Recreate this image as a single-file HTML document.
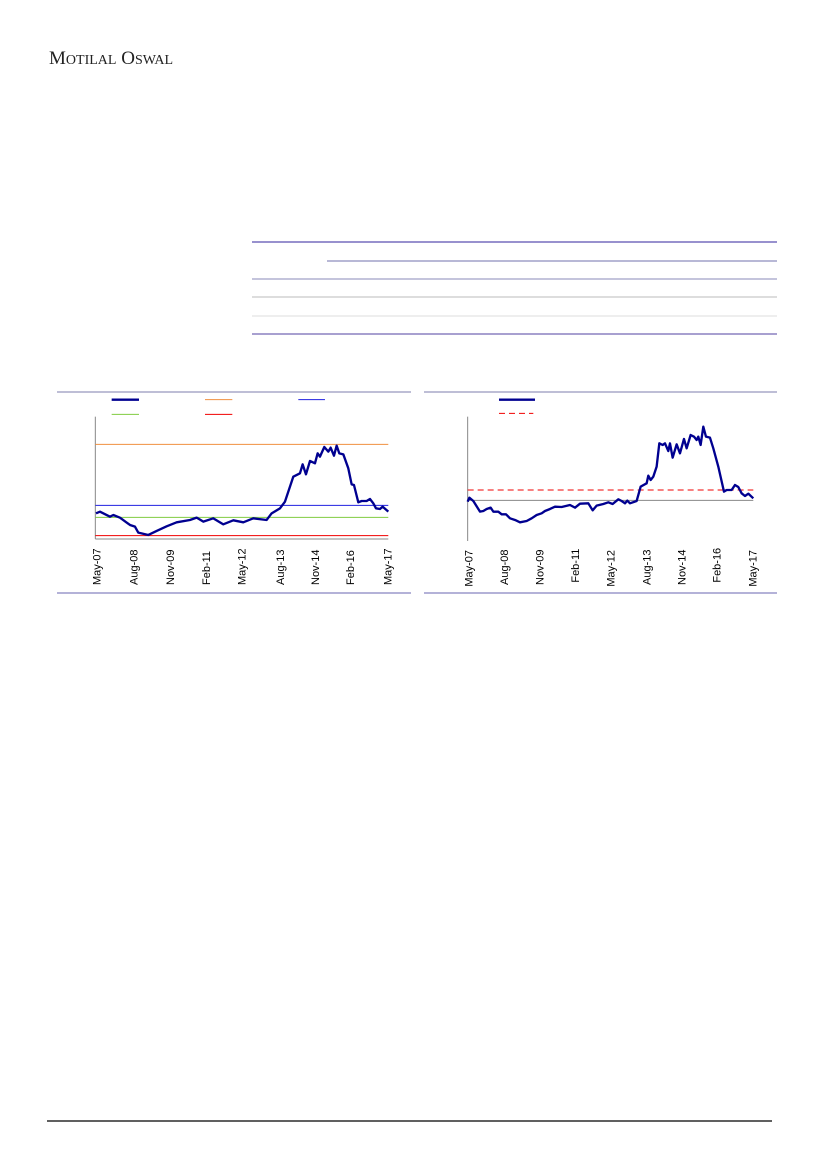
<!DOCTYPE html>
<html><head><meta charset="utf-8"><style>
html,body{margin:0;padding:0;background:#fff;}
svg{display:block;}
</style></head><body>
<svg width="827" height="1169" viewBox="0 0 827 1169" xmlns="http://www.w3.org/2000/svg" style="font-family:'Liberation Sans',sans-serif">
<text x="49" y="64" style="font-family:'Liberation Serif',serif;font-size:19px" fill="#222">M<tspan style="font-size:14px">OTILAL</tspan> O<tspan style="font-size:14px">SWAL</tspan></text>

<line x1="252" y1="242" x2="777" y2="242" stroke="#5a4fb0" stroke-width="1.2"/>
<line x1="327" y1="261" x2="777" y2="261" stroke="#a0a0c8" stroke-width="1.5"/>
<line x1="252" y1="279" x2="777" y2="279" stroke="#a0a0c8" stroke-width="1.2"/>
<line x1="252" y1="297" x2="777" y2="297" stroke="#bbb" stroke-width="1"/>
<line x1="252" y1="316" x2="777" y2="316" stroke="#ddd" stroke-width="1"/>
<line x1="252" y1="334" x2="777" y2="334" stroke="#a8a0d0" stroke-width="2"/>

<line x1="57" y1="392" x2="411" y2="392" stroke="#a8a8c8" stroke-width="1.5"/>
<line x1="57" y1="593" x2="411" y2="593" stroke="#6a64b0" stroke-width="1"/>
<line x1="424" y1="392" x2="777" y2="392" stroke="#a8a8c8" stroke-width="1.5"/>
<line x1="424" y1="593" x2="777" y2="593" stroke="#6a64b0" stroke-width="1"/>

<g transform="translate(50,385) scale(0.3333)" fill="none">
<line x1="185" y1="44" x2="267" y2="44" stroke="#000090" stroke-width="7"/>
<line x1="465" y1="44" x2="547" y2="44" stroke="#f09040" stroke-width="3"/>
<line x1="745" y1="44" x2="825" y2="44" stroke="#2020e0" stroke-width="3"/>
<line x1="185" y1="88" x2="267" y2="88" stroke="#80cc40" stroke-width="3"/>
<line x1="465" y1="88" x2="547" y2="88" stroke="#f00000" stroke-width="3"/>
<line x1="136" y1="95" x2="136" y2="462" stroke="#888" stroke-width="3"/>
<line x1="136" y1="462" x2="1015" y2="462" stroke="#888" stroke-width="3"/>
<line x1="136" y1="178" x2="1015" y2="178" stroke="#f09040" stroke-width="3"/>
<line x1="136" y1="361" x2="1015" y2="361" stroke="#2020e0" stroke-width="3"/>
<line x1="136" y1="397" x2="1015" y2="397" stroke="#80cc40" stroke-width="3"/>
<line x1="136" y1="452" x2="1015" y2="452" stroke="#f00000" stroke-width="3"/>
<polyline stroke="#000090" stroke-width="7" stroke-linejoin="round" points="138,385 150,380 180,395 190,390 210,398 240,420 255,425 265,443 295,450 320,438 350,424 380,412 420,405 440,398 460,410 490,400 520,418 550,406 580,412 610,400 650,405 665,385 690,370 705,350 715,320 730,275 750,265 758,238 768,268 780,228 795,235 803,205 810,215 823,186 835,200 842,188 852,212 860,182 868,205 880,208 895,250 905,298 912,300 925,352 935,348 950,348 960,342 970,355 978,370 990,372 998,365 1015,380"/>
<g font-size="33" fill="#000">
<text transform="translate(152,600) rotate(-90)">May-07</text>
<text transform="translate(262,600) rotate(-90)">Aug-08</text>
<text transform="translate(372,600) rotate(-90)">Nov-09</text>
<text transform="translate(480,600) rotate(-90)">Feb-11</text>
<text transform="translate(587,600) rotate(-90)">May-12</text>
<text transform="translate(702,600) rotate(-90)">Aug-13</text>
<text transform="translate(807,600) rotate(-90)">Nov-14</text>
<text transform="translate(912,600) rotate(-90)">Feb-16</text>
<text transform="translate(1024,600) rotate(-90)">May-17</text>
</g>
</g>

<g transform="translate(420,385) scale(0.3333)" fill="none">
<line x1="237" y1="44" x2="345" y2="44" stroke="#000090" stroke-width="7"/>
<line x1="237" y1="85" x2="340" y2="85" stroke="#f00000" stroke-width="3" stroke-dasharray="18,12"/>
<line x1="143" y1="95" x2="143" y2="468" stroke="#888" stroke-width="3"/>
<line x1="143" y1="346" x2="1000" y2="346" stroke="#888" stroke-width="3"/>
<line x1="143" y1="315" x2="1000" y2="315" stroke="#f00000" stroke-width="3" stroke-dasharray="18,12"/>
<polyline stroke="#000090" stroke-width="7" stroke-linejoin="round" points="143,350 148,338 160,348 180,380 190,378 200,372 212,368 220,380 235,380 245,388 258,388 270,400 285,405 300,412 320,408 335,400 350,390 365,385 375,378 390,372 405,365 425,366 450,360 465,368 480,356 505,355 518,376 530,362 550,357 565,352 578,357 595,343 605,348 615,355 622,347 630,355 650,348 662,305 680,295 685,272 692,285 700,275 710,245 718,175 728,180 735,175 745,198 750,175 758,218 770,178 780,205 792,162 800,190 812,150 822,155 830,165 835,155 842,180 850,125 858,155 870,158 880,190 895,245 912,320 920,315 935,315 945,300 955,306 965,325 975,333 985,326 1000,340"/>
<g font-size="33" fill="#000">
<text transform="translate(158,605) rotate(-90)">May-07</text>
<text transform="translate(264,600) rotate(-90)">Aug-08</text>
<text transform="translate(370,600) rotate(-90)">Nov-09</text>
<text transform="translate(477,593) rotate(-90)">Feb-11</text>
<text transform="translate(584,605) rotate(-90)">May-12</text>
<text transform="translate(692,600) rotate(-90)">Aug-13</text>
<text transform="translate(797,600) rotate(-90)">Nov-14</text>
<text transform="translate(902,593) rotate(-90)">Feb-16</text>
<text transform="translate(1010,605) rotate(-90)">May-17</text>
</g>
</g>

<line x1="47" y1="1121" x2="772" y2="1121" stroke="#000" stroke-width="1.2"/>
</svg>
</body></html>
